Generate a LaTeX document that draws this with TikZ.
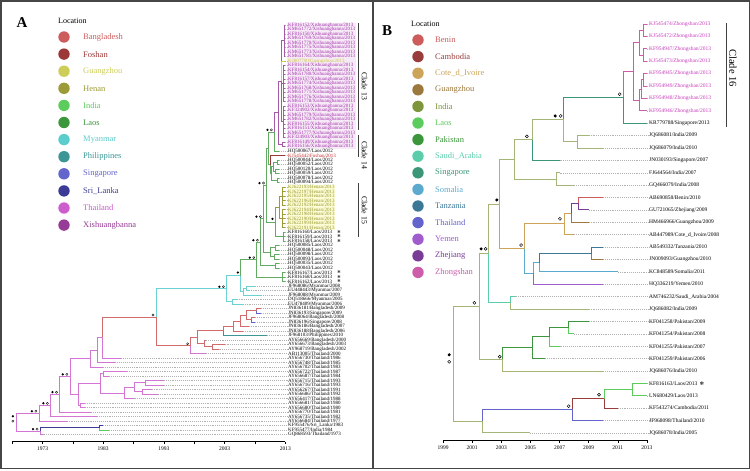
\documentclass[tikz,border=0pt]{standalone}
\usepackage{fontspec}
\setmainfont{Liberation Serif}
\newfontfamily\symfont{DejaVu Sans}
\usetikzlibrary{calc}
% panel A colours
\definecolor{cBGD}{RGB}{205,92,92}
\definecolor{cFOS}{RGB}{155,55,55}
\definecolor{cGZ}{RGB}{205,205,90}
\definecolor{cHEN}{RGB}{155,155,55}
\definecolor{cIND}{RGB}{92,205,92}
\definecolor{cLAO}{RGB}{60,150,60}
\definecolor{cMYA}{RGB}{92,205,205}
\definecolor{cPHI}{RGB}{60,150,150}
\definecolor{cSGP}{RGB}{100,100,205}
\definecolor{cSRI}{RGB}{60,60,150}
\definecolor{cTHA}{RGB}{205,92,205}
\definecolor{cXSB}{RGB}{150,60,150}
\colorlet{tLAO}{cLAO!80!white}
\colorlet{tXSB}{cXSB!85!white}
\colorlet{tTHA}{cTHA!85!white}
\colorlet{tBGD}{cBGD!90!white}
\colorlet{tMYA}{cMYA!90!white}
\definecolor{xsbT}{RGB}{160,50,170}
\definecolor{gzT}{RGB}{200,200,60}
\definecolor{fosT}{RGB}{200,40,40}
\definecolor{henT}{RGB}{150,150,40}
\definecolor{xsbBg}{RGB}{247,234,247}
\definecolor{henBg}{RGB}{252,252,214}
% panel B colours
\definecolor{bBEN}{RGB}{205,92,92}
\definecolor{bCAM}{RGB}{155,60,60}
\definecolor{bCIV}{RGB}{205,165,90}
\definecolor{bGZ}{RGB}{155,120,60}
\definecolor{bIND}{RGB}{125,150,60}
\definecolor{bLAO}{RGB}{92,205,92}
\definecolor{bPAK}{RGB}{60,150,60}
\definecolor{bSAU}{RGB}{92,205,170}
\definecolor{bSGP}{RGB}{60,150,120}
\definecolor{bSOM}{RGB}{92,170,205}
\definecolor{bTAN}{RGB}{60,120,150}
\definecolor{bTHA}{RGB}{100,100,205}
\definecolor{bYEM}{RGB}{160,92,205}
\definecolor{bZHE}{RGB}{120,60,150}
\definecolor{bZHO}{RGB}{205,92,170}
\colorlet{uIND}{bIND!70!white}
\definecolor{zhoT}{RGB}{200,60,190}
\definecolor{frameC}{RGB}{70,70,70}

\newcommand\ndA[4]{\coordinate (#1-m) at ($(#3)!0.5!(#4)$);\coordinate (#1-x) at ({42.5+(#2-1973)*6.07},0);\coordinate (#1) at (#1-m -| #1-x);}
\newcommand\ndB[4]{\coordinate (#1-m) at ($(#3)!0.5!(#4)$);\coordinate (#1-x) at ({443+(#2-1999)*14.57},0);\coordinate (#1) at (#1-m -| #1-x);}
\newcommand\brA[3]{\draw[brAs,#3] (#1) |- (#2);}
\newcommand\brB[3]{\draw[brBs,#3] (#1) |- (#2);}
\newcommand\mkF[3]{\fill (#1) ++(#2,#3) circle (1.25);}
\newcommand\mkO[3]{\draw[line width=0.35pt] (#1) ++(#2,#3) circle (1.1);}
\newcommand\mkFB[3]{\fill (#1) ++(#2,#3) circle (1.7);}
\newcommand\mkOB[3]{\draw[line width=0.45pt] (#1) ++(#2,#3) circle (1.5);}
\newcommand\pairA[1]{\mkF{#1}{-7}{-2}\mkO{#1}{-3}{-2}}

\tikzset{
  brAs/.style={line width=0.55pt},
  brBs/.style={line width=0.75pt},
  dsh/.style={gray!60, line width=0.3pt, dash pattern=on 1pt off 0.9pt},
  labA/.style={anchor=west, inner sep=0pt, font=\fontsize{5}{5}\selectfont},
  labB/.style={anchor=west, inner sep=0pt, font=\fontsize{5.5}{6}\selectfont},
  legtxt/.style={anchor=west, inner sep=0pt, font=\fontsize{8.5}{9}\selectfont},
  legdot/.style={circle, inner sep=0pt, minimum size=11.4pt},
  axl/.style={inner sep=0pt, font=\fontsize{5.5}{6}\selectfont},
  cladeA/.style={inner sep=0pt, rotate=-90, font=\fontsize{7.8}{8}\selectfont},
  cladeB/.style={inner sep=0pt, rotate=-90, font=\fontsize{10.5}{11}\selectfont},
  clbar/.style={line width=0.6pt, black!75},
  astA/.style={inner sep=0pt, font=\symfont\fontsize{4}{4}\selectfont},
  astB/.style={inner sep=0pt, font=\symfont\fontsize{5}{5}\selectfont},
  frame/.style={line width=1.5pt, frameC},
  title/.style={inner sep=0pt, font=\fontsize{8}{9}\selectfont}
}

\begin{document}
\begin{tikzpicture}[x=1pt,y=-1pt]
\useasboundingbox (0,0) rectangle (750,471);
\fill[white] (0,0) rectangle (750,471);
% frames
\draw[frame] (0.75,0.75) rectangle (749.25,468.5);
\draw[frame] (373,0.75) -- (373,468.5);

% ================= PANEL A =================
\node[inner sep=0pt, font=\bfseries\fontsize{15}{15}\selectfont] (letA) at (22,23) {A};
\node[title, anchor=west] (locA) at (58,21) {Location};
\foreach \k/\nm/\cc in {0/Bangladesh/cBGD,1/Foshan/cFOS,2/Guangzhou/cGZ,3/Henan/cHEN,4/India/cIND,5/Laos/cLAO,6/Myanmar/cMYA,7/Philippines/cPHI,8/Singapore/cSGP,9/Sri\_Lanka/cSRI,10/Thailand/cTHA,11/Xishuangbanna/cXSB}{
  \node[legdot, fill=\cc] (lgA\k) at (64,{37+\k*17.1}) {};
  \node[legtxt, text=\cc] (lgA\k t) at (83,{37+\k*17.1}) {\nm};
}
% label backgrounds
\fill[xsbBg] (286.5,22.6) rectangle (355.5,148.8);
\fill[henBg] (286.5,184.6) rectangle (335,229.8);

% leaves A
\foreach \i/\id/\pl/\yr/\lc in {
1/KF816152/Xishuangbanna/2013/xsbT, 2/KM651772/Xishuangbanna/2013/xsbT, 3/KF816150/Xishuangbanna/2013/xsbT,
4/KM651769/Xishuangbanna/2013/xsbT, 5/KM651770/Xishuangbanna/2013/xsbT, 6/KM651775/Xishuangbanna/2013/xsbT,
7/KM651773/Xishuangbanna/2013/xsbT, 8/KM651781/Xishuangbanna/2013/xsbT, 9/KJ807790/Guangzhou/2013/gzT,
10/KF816164/Xishuangbanna/2013/xsbT, 11/KF816154/Xishuangbanna/2013/xsbT, 12/KM651780/Xishuangbanna/2013/xsbT,
13/KF816157/Xishuangbanna/2013/xsbT, 14/KM651774/Xishuangbanna/2013/xsbT, 15/KM651768/Xishuangbanna/2013/xsbT,
16/KM651771/Xishuangbanna/2013/xsbT, 17/KM651776/Xishuangbanna/2013/xsbT, 18/KM651778/Xishuangbanna/2013/xsbT,
19/KF816153/Xishuangbanna/2013/xsbT, 20/KF324902/Xishuangbanna/2013/xsbT, 21/KM651779/Xishuangbanna/2013/xsbT,
22/KM651782/Xishuangbanna/2013/xsbT, 23/KF816155/Xishuangbanna/2013/xsbT, 24/KF816151/Xishuangbanna/2013/xsbT,
25/KM651777/Xishuangbanna/2013/xsbT, 26/KF324903/Xishuangbanna/2013/xsbT, 27/KF816149/Xishuangbanna/2013/xsbT,
28/KF816156/Xishuangbanna/2013/xsbT, 29/HQ500067/Laos/2012/black, 30/KJ545442/Foshan/2013/fosT,
31/HQ500044/Laos/2012/black, 32/HQ500052/Laos/2012/black, 33/HQ500120/Laos/2012/black,
34/HQ500059/Laos/2012/black, 35/HQ500078/Laos/2012/black, 36/HQ500094/Laos/2012/black,
37/KJ622193/Henan/2013/henT, 38/KJ622197/Henan/2013/henT, 39/KJ622195/Henan/2013/henT,
40/KJ622196/Henan/2013/henT, 41/KJ622192/Henan/2013/henT, 42/KJ622194/Henan/2013/henT,
43/KJ622198/Henan/2013/henT, 44/KJ622190/Henan/2013/henT, 45/KJ622199/Henan/2013/henT,
46/KJ622191/Henan/2013/henT, 47/KF816160/Laos/2013/black, 48/KF816159/Laos/2013/black,
49/KF816158/Laos/2013/black, 50/HQ500085/Laos/2012/black, 51/HQ500048/Laos/2012/black,
52/HQ500098/Laos/2012/black, 53/HQ500093/Laos/2012/black, 54/HQ500035/Laos/2012/black,
55/HQ500043/Laos/2012/black, 56/KF816167/Laos/2013/black, 57/KF816168/Laos/2013/black,
58/KF816162/Laos/2013/black, 59/JF968086/Myanmar/2008/black, 60/EU448443/Myanmar/2007/black,
61/JF968088/Myanmar/2009/black, 62/DQ518666/Myanmar/2005/black, 63/EU478409/Myanmar/2006/black,
64/JN836181/Bangladesh/2009/black, 65/JN836193/Singapore/2009/black, 66/JF968064/Bangladesh/2008/black,
67/JN836196/Singapore/2008/black, 68/JN836186/Bangladesh/2007/black, 69/JN836188/Bangladesh/2006/black,
70/JF968103/Philippines/2010/black, 71/AY656669/Bangladesh/2000/black, 72/AY656673/Bangladesh/2003/black,
73/AY968719/Bangladesh/2002/black, 74/AB113005/Thailand/2000/black, 75/AY656730/Thailand/1986/black,
76/AY656748/Thailand/1985/black, 77/AY656702/Thailand/1983/black, 78/AY656722/Thailand/1987/black,
79/AY656687/Thailand/1984/black, 80/AY656715/Thailand/1993/black, 81/AY656716/Thailand/1993/black,
82/AY656267/Thailand/1991/black, 83/AY656686/Thailand/1992/black, 84/AY656417/Thailand/1988/black,
85/AY656681/Thailand/1980/black, 86/AY656680/Thailand/1980/black, 87/AY656770/Thailand/1981/black,
88/AY656735/Thailand/1982/black, 89/AY656684/Thailand/1977/black, 90/KF955476/Sri\_Lanka/1983/black,
91/KF955477/India/1984/black, 92/GQ868593/Thailand/1973/black}{
  \coordinate (a\i) at ({42.5+(\yr-1973)*6.07},{25+(\i-1)*4.5});
  \node[labA,text=\lc] (a\i-l) at (288,{25+(\i-1)*4.5}) {\id/\pl/\yr};
  \draw[dsh] (a\i) -- (a\i-l.west);
}
\foreach \i in {47,48,49,56,57,58}{\node[astA] (sA\i) at (339,{25+(\i-1)*4.5}) {✻};}

% internal nodes A
\ndA{XA1}{2012.75}{a1}{a8}
\ndA{XA2}{2012.7}{a10}{a18}
\ndA{XA3}{2012.7}{a19}{a26}
\ndA{XA}{2012.4}{XA1}{XA3}
\ndA{X27}{2012.5}{a27}{a28}
\ndA{XC}{2011.8}{XA}{X27}
\ndA{XD}{2011.2}{XC}{a29}
\ndA{L31}{2011.6}{a31}{a32}
\ndA{L33}{2011.4}{a33}{a34}
\ndA{L35}{2011.6}{a35}{a36}
\ndA{L3134}{2011.0}{L31}{L33}
\ndA{L3136}{2010.7}{L3134}{L35}
\ndA{C14}{2010.5}{a30}{L3136}
\ndA{XE}{2010.2}{XD}{C14}
\ndA{H1}{2012.5}{a37}{a41}
\ndA{H2}{2012.5}{a42}{a46}
\ndA{HH}{2012.0}{H1}{H2}
\ndA{LT1}{2012.6}{a47}{a49}
\ndA{HL}{2011.3}{HH}{LT1}
\ndA{XH}{2009.9}{XE}{HL}
\ndA{LLa1}{2011.4}{a50}{a51}
\ndA{LLa2}{2011.2}{a52}{a53}
\ndA{LLa}{2010.5}{LLa1}{LLa2}
\ndA{LLb}{2011.3}{a54}{a55}
\ndA{XL}{2009.4}{XH}{LLa}
\ndA{XL1}{2008.9}{XL}{LLb}
\ndA{LT3}{2012.5}{a56}{a58}
\ndA{XL2}{2008.3}{XL1}{LT3}
\ndA{My59}{2006.6}{a59}{a60}
\ndA{MyA}{2006.1}{My59}{a61}
\ndA{M2}{2005.6}{XL2}{MyA}
\ndA{MyB}{2004.2}{a62}{a63}
\ndA{M1}{2003.3}{M2}{MyB}
\ndA{P64}{2008.2}{a64}{a65}
\ndA{P66}{2007.4}{a66}{a67}
\ndA{B1}{2006.6}{P64}{P66}
\ndA{B2}{2005.6}{B1}{a68}
\ndA{B3}{2004.4}{B2}{a69}
\ndA{B4}{2002.7}{B3}{a70}
\ndA{B6}{2001.0}{a72}{a73}
\ndA{B7}{1999.6}{a71}{B6}
\ndA{B8}{1998.5}{B4}{B7}
\ndA{BG}{1997.4}{B8}{a74}
\ndA{M0}{1991.7}{M1}{BG}
\ndA{TA}{1982.8}{M0}{a75}
\ndA{TB}{1982.1}{TA}{a76}
\ndA{TC}{1980.8}{TB}{a77}
\ndA{Q78}{1983.0}{a78}{a79}
\ndA{Q80}{1990.0}{a80}{a81}
\ndA{Q82}{1989.5}{a82}{a83}
\ndA{Q1}{1988.2}{Q80}{Q82}
\ndA{Q2}{1986.5}{Q1}{a84}
\ndA{QQ}{1982.5}{Q78}{Q2}
\ndA{P85}{1979.2}{a85}{a86}
\ndA{T7}{1978.9}{QQ}{P85}
\ndA{T5}{1977.5}{TC}{T7}
\ndA{T4}{1975.8}{T5}{a87}
\ndA{T3}{1974.3}{T4}{a88}
\ndA{T1}{1972.4}{T3}{a89}
\ndA{SL}{1982.3}{a90}{a91}
\ndA{T2}{1972.6}{SL}{a92}
\ndA{RA}{1968.7}{T1}{T2}

% edges A
\foreach \i in {1,...,8}{\brA{XA1}{a\i}{tXSB}}
\foreach \i in {10,...,18}{\brA{XA2}{a\i}{tXSB}}
\foreach \i in {19,...,26}{\brA{XA3}{a\i}{tXSB}}
\brA{XA}{XA1}{tXSB}\brA{XA}{XA2}{tXSB}\brA{XA}{XA3}{tXSB}\brA{XA}{a9}{cGZ}
\brA{X27}{a27}{tXSB}\brA{X27}{a28}{tXSB}
\brA{XC}{XA}{tXSB}\brA{XC}{X27}{tXSB}
\brA{XD}{XC}{tXSB}\brA{XD}{a29}{tLAO}
\brA{L31}{a31}{tLAO}\brA{L31}{a32}{tLAO}
\brA{L33}{a33}{tLAO}\brA{L33}{a34}{tLAO}
\brA{L35}{a35}{tLAO}\brA{L35}{a36}{tLAO}
\brA{L3134}{L31}{tLAO}\brA{L3134}{L33}{tLAO}
\brA{L3136}{L3134}{tLAO}\brA{L3136}{L35}{tLAO}
\brA{C14}{a30}{cFOS}\brA{C14}{L3136}{tLAO}
\brA{XE}{XD}{tLAO}\brA{XE}{C14}{tLAO}
\foreach \i in {37,...,41}{\brA{H1}{a\i}{cHEN}}
\foreach \i in {42,...,46}{\brA{H2}{a\i}{cHEN}}
\brA{HH}{H1}{cHEN}\brA{HH}{H2}{cHEN}
\foreach \i in {47,48,49}{\brA{LT1}{a\i}{tLAO}}
\brA{HL}{HH}{cHEN}\brA{HL}{LT1}{tLAO}
\brA{XH}{XE}{tLAO}\brA{XH}{HL}{tLAO}
\brA{LLa1}{a50}{tLAO}\brA{LLa1}{a51}{tLAO}
\brA{LLa2}{a52}{tLAO}\brA{LLa2}{a53}{tLAO}
\brA{LLa}{LLa1}{tLAO}\brA{LLa}{LLa2}{tLAO}
\brA{LLb}{a54}{tLAO}\brA{LLb}{a55}{tLAO}
\brA{XL}{XH}{tLAO}\brA{XL}{LLa}{tLAO}
\brA{XL1}{XL}{tLAO}\brA{XL1}{LLb}{tLAO}
\foreach \i in {56,57,58}{\brA{LT3}{a\i}{tLAO}}
\brA{XL2}{XL1}{tLAO}\brA{XL2}{LT3}{tLAO}
\brA{My59}{a59}{tMYA}\brA{My59}{a60}{tMYA}
\brA{MyA}{My59}{tMYA}\brA{MyA}{a61}{tMYA}
\brA{M2}{XL2}{tLAO}\brA{M2}{MyA}{tMYA}
\brA{MyB}{a62}{tMYA}\brA{MyB}{a63}{tMYA}
\brA{M1}{M2}{tMYA}\brA{M1}{MyB}{tMYA}
\brA{P64}{a64}{tBGD}\brA{P64}{a65}{cSGP}
\brA{P66}{a66}{tBGD}\brA{P66}{a67}{cSGP}
\brA{B1}{P64}{tBGD}\brA{B1}{P66}{tBGD}
\brA{B2}{B1}{tBGD}\brA{B2}{a68}{tBGD}
\brA{B3}{B2}{tBGD}\brA{B3}{a69}{tBGD}
\brA{B4}{B3}{tBGD}\brA{B4}{a70}{cPHI}
\brA{B6}{a72}{tBGD}\brA{B6}{a73}{tBGD}
\brA{B7}{a71}{tBGD}\brA{B7}{B6}{tBGD}
\brA{B8}{B4}{tBGD}\brA{B8}{B7}{tBGD}
\brA{BG}{B8}{tBGD}\brA{BG}{a74}{tTHA}
\brA{M0}{M1}{tMYA}\brA{M0}{BG}{tBGD}
\brA{TA}{M0}{tBGD}\brA{TA}{a75}{tTHA}
\brA{TB}{TA}{tTHA}\brA{TB}{a76}{tTHA}
\brA{TC}{TB}{tTHA}\brA{TC}{a77}{tTHA}
\brA{Q78}{a78}{tTHA}\brA{Q78}{a79}{tTHA}
\brA{Q80}{a80}{tTHA}\brA{Q80}{a81}{tTHA}
\brA{Q82}{a82}{tTHA}\brA{Q82}{a83}{tTHA}
\brA{Q1}{Q80}{tTHA}\brA{Q1}{Q82}{tTHA}
\brA{Q2}{Q1}{tTHA}\brA{Q2}{a84}{tTHA}
\brA{QQ}{Q78}{tTHA}\brA{QQ}{Q2}{tTHA}
\brA{P85}{a85}{tTHA}\brA{P85}{a86}{tTHA}
\brA{T7}{QQ}{tTHA}\brA{T7}{P85}{tTHA}
\brA{T5}{TC}{tTHA}\brA{T5}{T7}{tTHA}
\brA{T4}{T5}{tTHA}\brA{T4}{a87}{tTHA}
\brA{T3}{T4}{tTHA}\brA{T3}{a88}{tTHA}
\brA{T1}{T3}{tTHA}\brA{T1}{a89}{tTHA}
\brA{SL}{a90}{cSRI}\brA{SL}{a91}{cIND}
\brA{T2}{SL}{cSRI}\brA{T2}{a92}{tTHA}
\brA{RA}{T1}{tTHA}\brA{RA}{T2}{tTHA}

% markers A
\mkF{RA}{-3.5}{-6}\mkO{RA}{-3.5}{-1}
\pairA{T1}\pairA{T3}\pairA{T4}\pairA{T5}\pairA{T2}
\mkO{M0}{-3}{-2}\mkO{BG}{-3}{-1.5}
\pairA{M1}\mkF{M2}{-2.5}{-3}
\pairA{XL2}\pairA{XL1}\pairA{XL}\pairA{XH}\pairA{XD}
\mkF{HL}{-2.5}{-3}

% axis A
\coordinate (axA0) at ({42.5+(1968-1973)*6.07},441.5);
\coordinate (axA1) at ({42.5+(2013-1973)*6.07},441.5);
\draw[line width=0.45pt] (axA0) -- (axA1);
\foreach \yr in {1968,1973,...,2013}{\draw[line width=0.45pt] ({42.5+(\yr-1973)*6.07},441.5) -- ++(0,2);}
\foreach \yr in {1973,1983,...,2013}{\node[axl] (tA\yr) at ({42.5+(\yr-1973)*6.07},448.5) {\yr};}

% clade bars A
\coordinate (c13a) at (358,23); \coordinate (c13b) at (358,130);
\coordinate (c14a) at (358,135); \coordinate (c14b) at (358,157);
\coordinate (c15a) at (358,183); \coordinate (c15b) at (358,237);
\draw[clbar] (c13a) -- (c13b); \draw[clbar] (c14a) -- (c14b); \draw[clbar] (c15a) -- (c15b);
\node[cladeA] (cl13) at (364.5,86) {Clade 13};
\node[cladeA] (cl14) at (364.5,155) {Clade 14};
\node[cladeA] (cl15) at (364.5,210) {Clade 15};

% ================= PANEL B =================
\node[inner sep=0pt, font=\bfseries\fontsize{15}{15}\selectfont] (letB) at (387,30.5) {B};
\node[title, anchor=west] (locB) at (411,24) {Location};
\foreach \k/\nm/\cc in {0/Benin/bBEN,1/Cambodia/bCAM,2/Cote\_d\_Ivoire/bCIV,3/Guangzhou/bGZ,4/India/bIND,5/Laos/bLAO,6/Pakistan/bPAK,7/Saudi\_Arabia/bSAU,8/Singapore/bSGP,9/Somalia/bSOM,10/Tanzania/bTAN,11/Thailand/bTHA,12/Yemen/bYEM,13/Zhejiang/bZHE,14/Zhongshan/bZHO}{
  \node[legdot, fill=\cc] (lgB\k) at (418,{40+\k*16.6}) {};
  \node[legtxt, text=\cc] (lgB\k t) at (435,{40+\k*16.6}) {\nm};
}

\foreach \i/\id/\pl/\yr/\lc in {
1/KJ545474/Zhongshan/2013/zhoT, 2/KJ545472/Zhongshan/2013/zhoT, 3/KF954947/Zhongshan/2013/zhoT,
4/KJ545473/Zhongshan/2013/zhoT, 5/KF954945/Zhongshan/2013/zhoT, 6/KF954949/Zhongshan/2013/zhoT,
7/KF954948/Zhongshan/2013/zhoT, 8/KF954946/Zhongshan/2013/zhoT, 9/KR779788/Singapore/2013/black,
10/JQ686081/India/2009/black, 11/JQ686079/India/2010/black, 12/JN030193/Singapore/2007/black,
13/FJ644564/India/2007/black, 14/GQ466079/India/2008/black, 15/AB690858/Benin/2010/black,
16/GU721065/Zhejiang/2009/black, 17/HM466966/Guangzhou/2009/black, 18/AB447989/Cote\_d\_Ivoire/2008/black,
19/AB549332/Tanzania/2010/black, 20/JN009093/Guangzhou/2010/black, 21/KC848589/Somalia/2011/black,
22/HQ336219/Yemen/2010/black, 23/AM746232/Saudi\_Arabia/2004/black, 24/JQ686082/India/2009/black,
25/KF041258/Pakistan/2009/black, 26/KF041254/Pakistan/2008/black, 27/KF041255/Pakistan/2007/black,
28/KF041259/Pakistan/2006/black, 29/JQ686076/India/2010/black, 30/KF816163/Laos/2013/black,
31/LN680429/Laos/2013/black, 32/KF543274/Cambodia/2011/black, 33/JF968098/Thailand/2010/black,
34/JQ686078/India/2005/black}{
  \coordinate (b\i) at ({443+(\yr-1999)*14.57},{24+(\i-1)*12.39});
  \node[labB,text=\lc] (b\i-l) at (649,{24+(\i-1)*12.39}) {\id/\pl/\yr};
  \draw[dsh] (b\i) -- (b\i-l.west);
}
\node[astB] (sB30) at (702,{24+29*12.39}) {✻};

\ndB{bA1}{2012.75}{b1}{b2}
\ndB{bA2}{2012.75}{b3}{b4}
\ndB{bA}{2012.45}{bA1}{bA2}
\ndB{bB1}{2012.75}{b5}{b6}
\ndB{bB2}{2012.6}{bB1}{b7}
\ndB{bB}{2012.45}{bB2}{b8}
\ndB{bZ}{2012.05}{bA}{bB}
\ndB{bZS}{2011.4}{bZ}{b9}
\ndB{bI10}{2008.2}{b10}{b11}
\ndB{bN563}{2007.25}{bZS}{bI10}
\ndB{bN532}{2005.1}{bN563}{b12}
\ndB{bI13}{2006.8}{b13}{b14}
\ndB{bN514}{2003.9}{bN532}{bI13}
\ndB{bN578}{2008.3}{b15}{b16}
\ndB{bN571}{2007.8}{bN578}{b17}
\ndB{bN564}{2007.3}{bN571}{b18}
\ndB{bN591}{2009.2}{b19}{b20}
\ndB{bN539}{2005.6}{bN591}{b21}
\ndB{bN533}{2005.2}{bN539}{b22}
\ndB{bN523}{2004.6}{bN564}{bN533}
\ndB{bN500}{2002.9}{bN514}{bN523}
\ndB{bN510}{2003.6}{b23}{b24}
\ndB{bN488}{2002.1}{bN500}{bN510}
\ndB{bN568}{2007.6}{b25}{b26}
\ndB{bN550}{2006.3}{bN568}{b27}
\ndB{bN532p}{2005.1}{bN550}{b28}
\ndB{bN503}{2003.1}{bN532p}{b29}
\ndB{bN479}{2001.5}{bN488}{bN503}
\ndB{bL30}{2012.0}{b30}{b31}
\ndB{bN604}{2010.05}{bL30}{b32}
\ndB{bN573}{2007.9}{bN604}{b33}
\ndB{bN482}{2001.7}{bN573}{b34}
\ndB{bR}{1999.7}{bN479}{bN482}

\brB{bA1}{b1}{bZHO}\brB{bA1}{b2}{bZHO}
\brB{bA2}{b3}{bZHO}\brB{bA2}{b4}{bZHO}
\brB{bA}{bA1}{bZHO}\brB{bA}{bA2}{bZHO}
\brB{bB1}{b5}{bZHO}\brB{bB1}{b6}{bZHO}
\brB{bB2}{bB1}{bZHO}\brB{bB2}{b7}{bZHO}
\brB{bB}{bB2}{bZHO}\brB{bB}{b8}{bZHO}
\brB{bZ}{bA}{bZHO}\brB{bZ}{bB}{bZHO}
\brB{bZS}{bZ}{bZHO}\brB{bZS}{b9}{bSGP}
\brB{bI10}{b10}{uIND}\brB{bI10}{b11}{uIND}
\brB{bN563}{bZS}{bSGP}\brB{bN563}{bI10}{uIND}
\brB{bN532}{bN563}{uIND}\brB{bN532}{b12}{bSGP}
\brB{bI13}{b13}{uIND}\brB{bI13}{b14}{uIND}
\brB{bN514}{bN532}{uIND}\brB{bN514}{bI13}{uIND}
\brB{bN578}{b15}{bBEN}\brB{bN578}{b16}{bZHE}
\brB{bN571}{bN578}{bZHE}\brB{bN571}{b17}{bGZ}
\brB{bN564}{bN571}{bCIV}\brB{bN564}{b18}{bCIV}
\brB{bN591}{b19}{bTAN}\brB{bN591}{b20}{bGZ}
\brB{bN539}{bN591}{bTAN}\brB{bN539}{b21}{bSOM}
\brB{bN533}{bN539}{bSOM}\brB{bN533}{b22}{bYEM}
\brB{bN523}{bN564}{bCIV}\brB{bN523}{bN533}{bSOM}
\brB{bN500}{bN514}{uIND}\brB{bN500}{bN523}{bCIV}
\brB{bN510}{b23}{bSAU}\brB{bN510}{b24}{uIND}
\brB{bN488}{bN500}{uIND}\brB{bN488}{bN510}{bSAU}
\brB{bN568}{b25}{bPAK}\brB{bN568}{b26}{bLAO}
\brB{bN550}{bN568}{bPAK}\brB{bN550}{b27}{bLAO}
\brB{bN532p}{bN550}{bPAK}\brB{bN532p}{b28}{bPAK}
\brB{bN503}{bN532p}{bPAK}\brB{bN503}{b29}{uIND}
\brB{bN479}{bN488}{uIND}\brB{bN479}{bN503}{uIND}
\brB{bL30}{b30}{bLAO}\brB{bL30}{b31}{bLAO}
\brB{bN604}{bL30}{bLAO}\brB{bN604}{b32}{bCAM}
\brB{bN573}{bN604}{bCAM}\brB{bN573}{b33}{bTHA}
\brB{bN482}{bN573}{bTHA}\brB{bN482}{b34}{uIND}
\brB{bR}{bN479}{uIND}\brB{bR}{bN482}{uIND}

% markers B
\mkOB{bZS}{-4}{-3}
\mkFB{bN563}{-8}{-3.5}\mkOB{bN563}{-2.5}{-3.5}
\mkOB{bN532}{-5}{-3.5}
\mkFB{bN500}{-3}{-4}
\mkFB{bN488}{-7}{-4.5}\mkOB{bN488}{-2.5}{-4.5}
\mkOB{bN479}{-5}{-3.5}
\mkOB{bN503}{-3}{-2.5}
\mkFB{bR}{-4}{-9}\mkOB{bR}{-4}{-2}
\mkOB{bN523}{-3.5}{-3.5}
\mkOB{bN564}{-4}{-5}
\mkOB{bN573}{-4}{-3.5}
\mkOB{bN604}{-5}{-4}

% axis B
\coordinate (axB0) at (443,440);
\coordinate (axB1) at ({443+14*14.57},440);
\draw[line width=0.45pt] (axB0) -- (axB1);
\foreach \yr in {1999,2001,...,2013}{
  \draw[line width=0.45pt] ({443+(\yr-1999)*14.57},440) -- ++(0,2.5);
  \node[axl] (tB\yr) at ({443+(\yr-1999)*14.57},448) {\yr};
}

% clade bar B
\coordinate (c16a) at (726,23); \coordinate (c16b) at (726,127);
\draw[clbar] (c16a) -- (c16b);
\node[cladeB] (cl16) at (733,68) {Clade 16};
\end{tikzpicture}
\end{document}
